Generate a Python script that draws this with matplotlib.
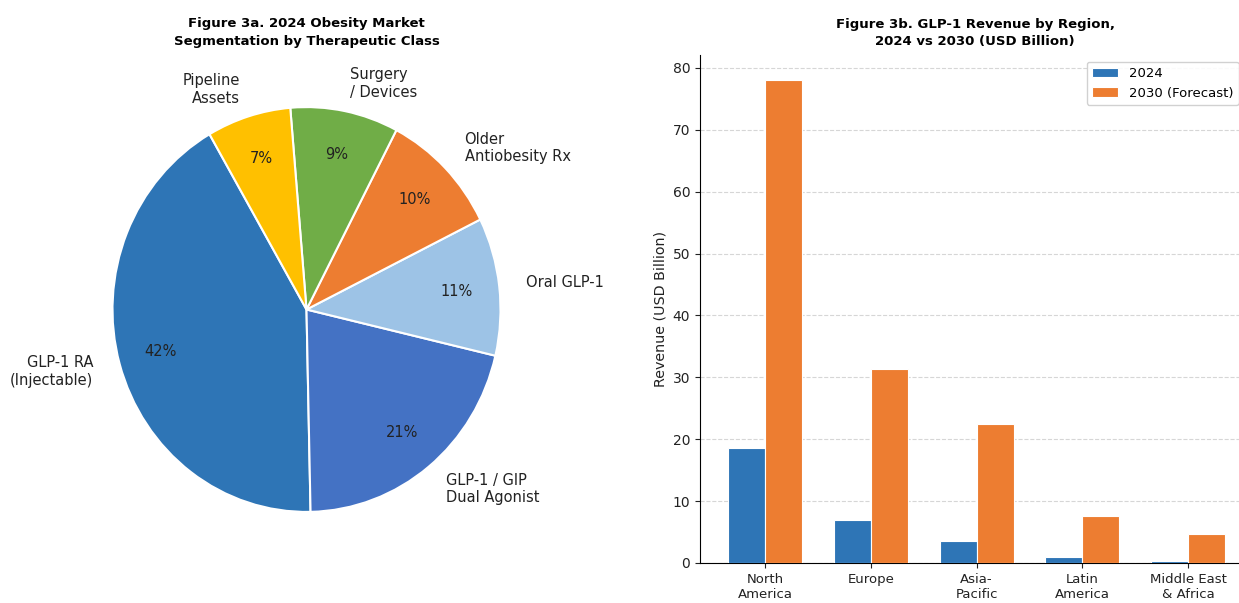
import matplotlib
matplotlib.use("Agg")
import matplotlib.pyplot as plt
import numpy as np

plt.rcParams['font.family'] = ['DejaVu Sans']

# ---- Data ----
pie_labels = ["GLP-1 RA\n(Injectable)", "GLP-1 / GIP\nDual Agonist", "Oral GLP-1",
              "Older\nAntiobesity Rx", "Surgery\n/ Devices", "Pipeline\nAssets"]
pie_shares = [42, 21, 11, 10, 9, 7]
pie_colors = ["#2E75B6", "#4472C4", "#9DC3E6", "#ED7D31", "#70AD47", "#FFC000"]

regions = ["North\nAmerica", "Europe", "Asia-\nPacific", "Latin\nAmerica", "Middle East\n& Africa"]
rev_2024 = [18.6, 7.0, 3.6, 1.0, 0.3]
rev_2030 = [78.0, 31.4, 22.5, 7.6, 4.7]
series_names = ["2024", "2030 (Forecast)"]
bar_colors = ["#2E75B6", "#ED7D31"]

W, H = 1239, 603
fig = plt.figure(figsize=(W / 100, H / 100), dpi=100)

def box(l, t, r, b):
    return [l / W, (H - b) / H, (r - l) / W, (b - t) / H]

# ---- Pie ----
ax1 = fig.add_axes(box(64, 56.5, 549, 562.5))
wedges, texts, autotexts = ax1.pie(
    pie_shares, labels=pie_labels, colors=pie_colors, startangle=120,
    counterclock=True, autopct='%1.0f%%', pctdistance=0.78, labeldistance=1.14,
    wedgeprops=dict(edgecolor='white', linewidth=1.5),
    textprops=dict(fontsize=10.5, color='#222222'))
ax1.set_aspect('auto')
ax1.set_xlim(-1.25, 1.25)
ax1.set_ylim(-1.25, 1.25)
ax1.set_title("Figure 3a. 2024 Obesity Market\nSegmentation by Therapeutic Class",
              fontsize=9.5, fontweight='bold', pad=8.4, linespacing=1.45)

# ---- Bars ----
ax2 = fig.add_axes(box(700, 55, 1250, 563))
x = np.arange(len(regions))
w = 0.35
ax2.bar(x - w / 2, rev_2024, w, color=bar_colors[0], label=series_names[0],
        edgecolor='white', linewidth=0.8, zorder=3)
ax2.bar(x + w / 2, rev_2030, w, color=bar_colors[1], label=series_names[1],
        edgecolor='white', linewidth=0.8, zorder=3)
ax2.set_xticks(x)
ax2.set_xticklabels(regions, fontsize=9.5, color='#222222')
ax2.set_xlim(-0.615, 4.585)
ax2.set_yticks(np.arange(0, 81, 10))
ax2.tick_params(axis='y', labelsize=10, colors='#222222')
ax2.tick_params(axis='x', colors='#222222')
ax2.set_ylim(0, 82.1)
ax2.set_ylabel("Revenue (USD Billion)", fontsize=10.3, color='#222222')
ax2.yaxis.grid(True, linestyle='--', color='#cccccc', linewidth=0.8, alpha=0.8, zorder=0)
ax2.set_axisbelow(True)
for s in ['top', 'right']:
    ax2.spines[s].set_visible(False)
ax2.set_title("Figure 3b. GLP-1 Revenue by Region,\n2024 vs 2030 (USD Billion)",
              fontsize=9.5, fontweight='bold', pad=7.1, linespacing=1.45)
ax2.legend(loc='upper right', fontsize=9.5, framealpha=0.9,
           bbox_to_anchor=(1238.5 / W, (H - 61.7) / H), bbox_transform=fig.transFigure,
           borderaxespad=0)

fig.savefig("out.png", dpi=100)
